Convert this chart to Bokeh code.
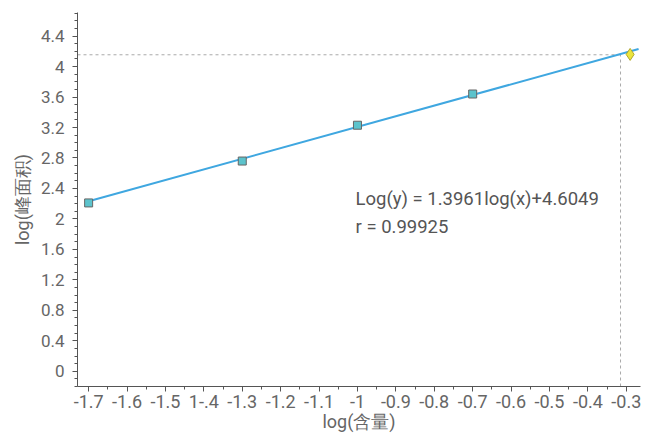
from bokeh.plotting import figure
from bokeh.models import Range1d, FixedTicker, Label
from bokeh.embed import file_html
from bokeh.resources import INLINE

# data
std_x = [-1.7, -1.3, -1.0, -0.7]
std_y = [2.21, 2.76, 3.23, 3.64]
slope = 1.3961
intercept = 4.6049
fit_x = [-1.7, -0.268]
fit_y = [slope * v + intercept for v in fit_x]
sample_x = [-0.29]
sample_y = [4.16]
ref_x = -0.315
ref_y = 4.155

x_ticks = [-1.7, -1.6, -1.5, -1.4, -1.3, -1.2, -1.1, -1.0, -0.9, -0.8, -0.7, -0.6, -0.5, -0.4, -0.3]
x_labels = ["-1.7", "-1.6", "-1.5", "1-.4", "-1.3", "-1.2", "-1.1", "-1", "-0.9", "-0.8", "-0.7", "-0.6", "-0.5", "-0.4", "-0.3"]
y_ticks = [0, 0.4, 0.8, 1.2, 1.6, 2.0, 2.4, 2.8, 3.2, 3.6, 4.0, 4.4]
y_labels = ["0", "0.4", "0.8", "1.2", "1.6", "2", "2.4", "2.8", "3.2", "3.6", "4", "4.4"]
eq_text = "Log(y) = 1.3961log(x)+4.6049"
r_text = "r = 0.99925"
x_title = "log(含量)"
y_title = "log(峰面积)"

xmin, xmax = -1.729, -0.263
ymin, ymax = -0.2, 4.71

p = figure(width=647, height=435, output_backend="svg", toolbar_location=None,
           x_range=Range1d(xmin, xmax), y_range=Range1d(ymin, ymax),
           min_border_left=77, min_border_right=7, min_border_top=12, min_border_bottom=49)
p.outline_line_color = None
p.xgrid.visible = False
p.ygrid.visible = False
p.background_fill_color = "white"
p.border_fill_color = "white"

# reference dashed lines
p.line([xmin, ref_x], [ref_y, ref_y], line_color="#aaaaaa", line_dash="3 3", line_width=1)
p.line([ref_x, ref_x], [ymin, ref_y], line_color="#aaaaaa", line_dash="3 3", line_width=1)

# fit line
p.line(fit_x, fit_y, line_color="#3fa7e0", line_width=2)

# standards
p.scatter(std_x, std_y, marker="square", size=8, fill_color="#5cc3cc", line_color="#666666", line_width=1)

# sample
p.scatter(sample_x, sample_y, marker="diamond", size=12, fill_color="#ece53c", line_color="#b0a830", line_width=1)

font = "Roboto"
txt_color = "#666666"
p.add_layout(Label(x=-1.005, y=2.256, text=eq_text, text_font=font, text_font_size="18.5px",
                   text_color="#555555", text_baseline="middle"))
p.add_layout(Label(x=-1.005, y=1.90, text=r_text, text_font=font, text_font_size="18.5px",
                   text_color="#555555", text_baseline="middle"))

xt = {}
for v, l in zip(x_ticks, x_labels):
    xt[v] = l
yt = {}
for v, l in zip(y_ticks, y_labels):
    yt[v] = l

minor_x = [round(-1.75 + 0.05 * i, 3) for i in range(0, 31)]
minor_y = [round(-0.2 + 0.1 * i, 3) for i in range(0, 50)]

p.xaxis.ticker = FixedTicker(ticks=x_ticks, minor_ticks=minor_x)
p.yaxis.ticker = FixedTicker(ticks=y_ticks, minor_ticks=minor_y)
p.xaxis.major_label_overrides = xt
p.yaxis.major_label_overrides = yt

for ax in (p.xaxis, p.yaxis):
    ax.axis_line_color = "#555555"
    ax.major_tick_line_color = "#555555"
    ax.minor_tick_line_color = "#555555"
    ax.major_tick_out = 5
    ax.major_tick_in = 0
    ax.minor_tick_out = 3
    ax.minor_tick_in = 0
    ax.major_label_text_font = font
    ax.major_label_text_font_size = "17px"
    ax.major_label_text_color = txt_color
    ax.axis_label_text_font = font
    ax.axis_label_text_font_size = "18px"
    ax.axis_label_text_font_style = "normal"
    ax.axis_label_text_color = txt_color

p.xaxis.major_label_text_font_size = "18px"
p.xaxis.axis_label = x_title
p.yaxis.axis_label = y_title
p.xaxis.major_label_standoff = 3
p.yaxis.major_label_standoff = 8
p.xaxis.axis_label_standoff = 0
p.yaxis.axis_label_standoff = 5

open("out.html", "w").write(file_html(p, INLINE))
